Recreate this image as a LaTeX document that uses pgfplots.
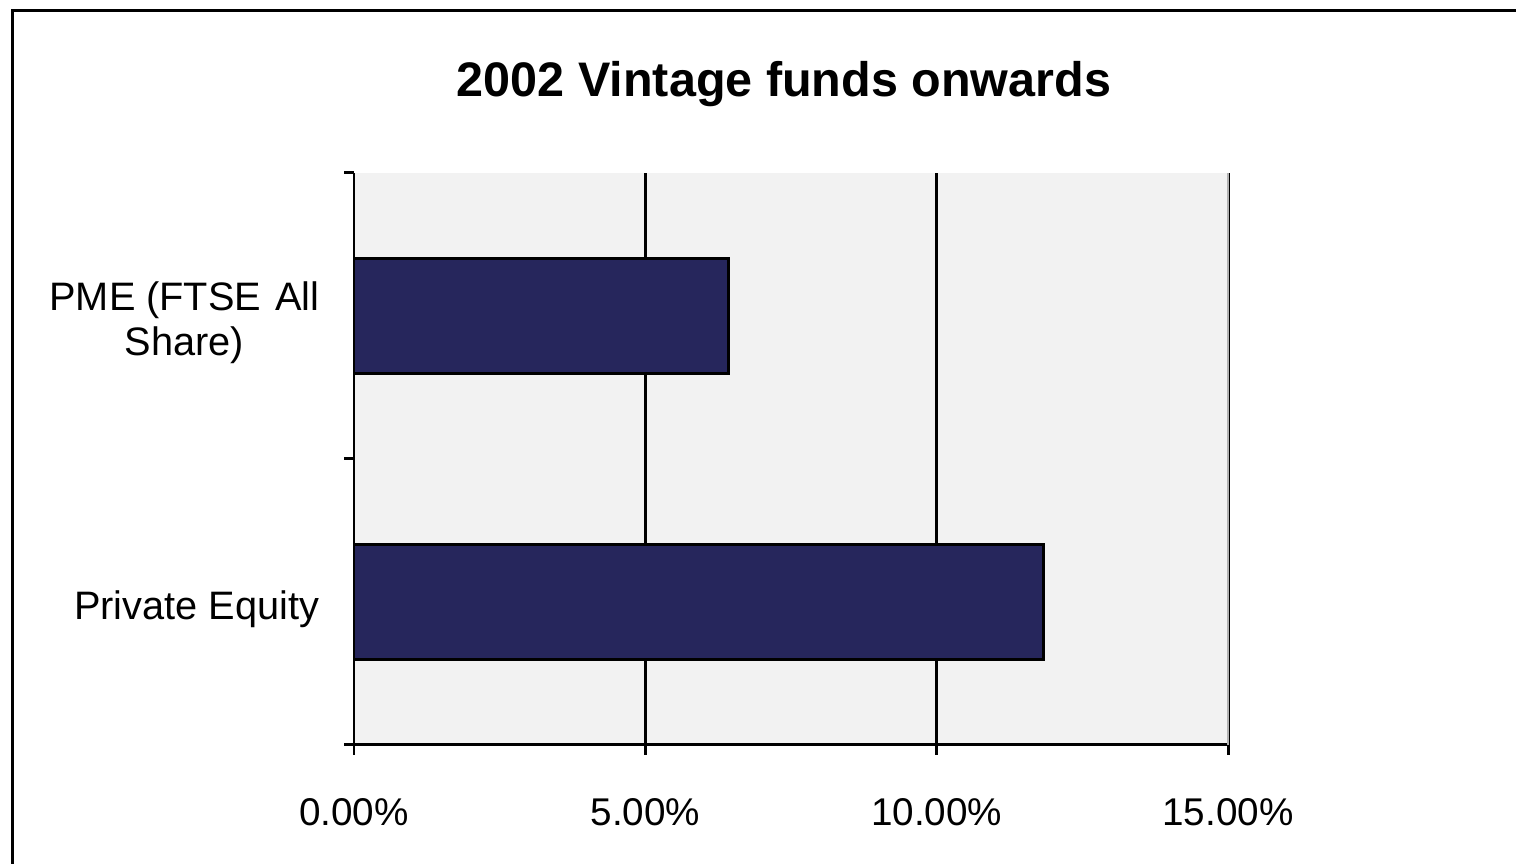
\documentclass[border=0pt]{standalone}
\usepackage{pgfplots}
\pgfplotsset{compat=1.18}
\usepackage{fontspec}
\setmainfont{Liberation Sans}
\definecolor{barnavy}{HTML}{26265C}
\definecolor{plotbg}{HTML}{F2F2F2}
\begin{document}
\begin{tikzpicture}
  \useasboundingbox (0,0) rectangle (151.6mm,86.4mm);
  % chart frame, cut off at the right and bottom edges
  \draw[line width=0.3mm] (1.2mm,-5mm) rectangle (170mm,85.3mm);
  \node[anchor=base, font=\bfseries\fontsize{13.8pt}{16pt}\selectfont]
    at (78.4mm,76.7mm) {2002 Vintage funds onwards};
  \begin{axis}[
      at={(35.4mm,11.9mm)}, anchor=south west,
      scale only axis,
      width=87.4mm, height=57.2mm,
      xbar, bar width=11.5mm,
      xmin=0, xmax=15,
      ymin=-0.5, ymax=1.5,
      axis lines=left,
      axis line style={-, line width=0.85pt, black},
      axis background/.style={fill=plotbg},
      xtick={0,5,10,15},
      xticklabels={0.00\%,5.00\%,10.00\%,15.00\%},
      ytick={-0.5,0.5,1.5},
      yticklabels={},
      extra y ticks={0,1},
      extra y tick labels={Private Equity,{PME (FTSE\hspace{0.35em}All\\Share)}},
      extra y tick style={major tick length=0pt,
        yticklabel style={align=center, inner sep=0pt, xshift=-3.4mm, yshift=-0.7mm,
          font=\fontsize{11.3pt}{12.9pt}\selectfont}},
      tick align=outside,
      major tick length=1mm,
      tick style={line width=0.85pt, black},
      xmajorgrids,
      major grid style={line width=0.85pt, black},
      ticklabel style={font=\fontsize{11pt}{12.5pt}\selectfont},
      xticklabel style={inner sep=0pt, yshift=-4.3mm},
      clip=false,
    ]
    \addplot[fill=barnavy, draw=black, line width=0.85pt]
      coordinates {(11.83,0) (6.42,1)};
    \draw[gray!60, line width=0.6pt] (axis cs:15,-0.5) -- (axis cs:15,1.5);
  \end{axis}
\end{tikzpicture}
\end{document}
